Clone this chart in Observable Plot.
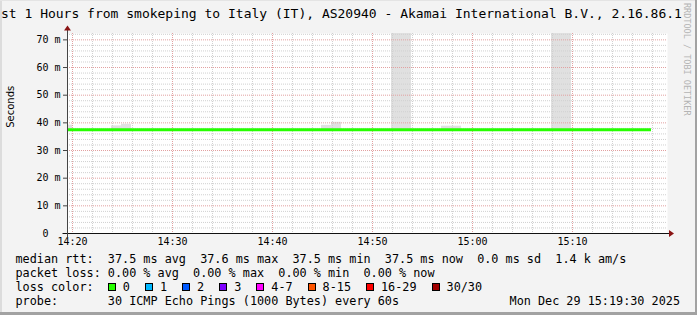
<!DOCTYPE html>
<html><head><meta charset="utf-8">
<script src="https://cdn.jsdelivr.net/npm/d3@7"></script>
<script src="https://cdn.jsdelivr.net/npm/@observablehq/plot@0.6"></script>
<style>
html,body{margin:0;padding:0;background:#f3f3f3;}
#chart{position:relative;width:697px;height:315px;background:#f3f3f3;overflow:hidden;font-family:'DejaVu Sans Mono',monospace;color:#000;}
.abs{position:absolute;}
</style></head><body><div id="chart"></div>
<script>
// ---- data ----
const day = "2025-12-29";
const titleText = "st 1 Hours from smokeping to Italy (IT), AS20940 - Akamai International B.V., 2.16.86.1";
const xStart = "14:19:30", xEnd = "15:19:30";
const xTickLabels = ["14:20","14:30","14:40","14:50","15:00","15:10"];
const yTickValues = [0,10,20,30,40,50,60,70];
const yMax = 72.3;
const medianStart = ["14:19:30"];
const medianEnd = ["15:17:54"];
const medianRtt = [37.5];
const smokeStart = ["14:19:30","14:23:54","14:24:54","14:44:54","14:45:54","14:51:54","14:56:54","15:07:54"];
const smokeEnd   = ["14:20:00","14:24:54","14:25:54","14:45:54","14:46:54","14:53:54","14:58:54","15:09:54"];
const smokeLow   = [37.0, 37.0, 37.0, 37.0, 37.0, 37.0, 37.0, 37.0];
const smokeHigh  = [39.2, 38.9, 39.5, 39.1, 40.2, 95.0, 38.8, 95.0];
const lossLabels = ["0","1","2","3","4-7","8-15","16-29","30/30"];
const lossColors = ["#26ff00","#00b8ff","#0059ff","#7e00ff","#ff00ff","#ff5500","#ff0000","#a10000"];
const statsLine1 = "median rtt:  37.5 ms avg  37.6 ms max  37.5 ms min  37.5 ms now  0.0 ms sd  1.4 k am/s";
const statsLine2 = "packet loss: 0.00 % avg  0.00 % max  0.00 % min  0.00 % now";
const lossLegendLabel = "loss color:  ";
const probeLine = "probe:       30 ICMP Echo Pings (1000 Bytes) every 60s";
const dateStamp = "Mon Dec 29 15:19:30 2025";
const yLabel = "Seconds";
const watermark = "RRDTOOL / TOBI OETIKER";

// ---- build ----
const chart = document.getElementById("chart");
const t = s => new Date(`${day}T${s.length === 5 ? s + ":00" : s}Z`);
const x0 = t(xStart), x1 = t(xEnd);
const majorX = xTickLabels.map(t);
const minorX = d3.utcMinute.every(2).range(x0, x1).filter(d => d.getUTCMinutes() % 10 !== 0);
const majorY = yTickValues.filter(v => v > 0);
const minorY = d3.range(2, yMax, 2).filter(v => v % 10 !== 0);
const smoke = smokeStart.map((s, i) => ({x1: t(s), x2: t(smokeEnd[i]), y1: smokeLow[i], y2: smokeHigh[i]}));
const median = medianStart.map((s, i) => ({x1: t(s), x2: t(medianEnd[i]), y: medianRtt[i]}));

// borders
function box(css){const d=document.createElement("div");d.className="abs";d.style.cssText=css;chart.appendChild(d);return d;}
box("left:0;top:0;width:2px;height:315px;background:#dcdcdc;");
box("left:0;top:0;width:697px;height:1px;background:#e4e4e4;");
box("right:0;top:0;width:2px;height:315px;background:#a2a2a2;");
box("left:0;bottom:0;width:697px;height:3px;background:#a2a2a2;");

// title
const title = box("left:1px;top:6.3px;font-size:13px;line-height:15px;white-space:pre;");
title.textContent = titleText;

// watermark
const wm = box("left:692px;top:3px;font-size:8.5px;line-height:10px;white-space:pre;color:#b4b4b4;transform:rotate(90deg);transform-origin:0 0;");
wm.textContent = watermark;

const gridMinor = {stroke: "#d0d0d0", strokeOpacity: 1, strokeDasharray: "1,1"};
const gridMajor = {stroke: "#e2a0a0", strokeOpacity: 1, strokeDasharray: "1,1"};

const plot = Plot.plot({
  width: 697, height: 228,
  marginLeft: 67, marginRight: 30, marginTop: 11, marginBottom: 17,
  x: {type: "utc", domain: [x0, x1]},
  y: {domain: [0, yMax]},
  style: {background: "transparent", fontFamily: "'DejaVu Sans Mono', monospace", fontSize: "10px", color: "#000", overflow: "visible"},
  marks: [
    Plot.frame({fill: "#ffffff", stroke: "none"}),
    Plot.rect(smoke, {x1: "x1", x2: "x2", y1: "y1", y2: "y2", fill: "#e0e0e0", clip: true}),
    Plot.gridX(minorX, gridMinor),
    Plot.gridY(minorY, gridMinor),
    Plot.gridX(majorX, gridMajor),
    Plot.gridY(majorY, gridMajor),
    Plot.ruleY(median, {x1: "x1", x2: "x2", y: "y", stroke: "#26ff00", strokeWidth: 3}),
    Plot.axisX(majorX, {tickFormat: d3.utcFormat("%H:%M"), tickSize: 0, tickPadding: 4.5, label: null}),
    Plot.axisY(yTickValues, {tickFormat: v => v === 0 ? "0\u00a0\u00a0" : `${v} m`, tickSize: 4, tickPadding: 3, label: null, stroke: "#444"}),
    Plot.text([yLabel], {frameAnchor: "left", dx: -56.3, dy: -5.7, rotate: -90, fontFamily: "DejaVu Sans", fontSize: 10, fill: "#000"})
  ]
});
plot.style.position = "absolute";
plot.style.left = "0px";
plot.style.top = "22px";
chart.appendChild(plot);

// axis lines and arrows via the plot's scales
const sx = plot.scale("x"), sy = plot.scale("y");
const X0 = Math.round(sx.apply(x0)) + 0.5, X1 = sx.apply(x1);
const Y0 = Math.round(sy.apply(0)) + 0.5, YT = sy.apply(yMax);
const svg = d3.select(plot);
svg.append("line").attr("x1", X0 - 5).attr("x2", X1 + 3).attr("y1", Y0).attr("y2", Y0).attr("stroke", "#111");
svg.append("line").attr("x1", X0).attr("x2", X0).attr("y1", Y0 + 4).attr("y2", YT - 3).attr("stroke", "#444");
svg.append("path").attr("d", `M${X1 + 2},${Y0 - 3.5}L${X1 + 7},${Y0}L${X1 + 2},${Y0 + 3.5}Z`).attr("fill", "#8a1414");
svg.append("path").attr("d", `M${X0 - 3.5},${YT - 2.5}L${X0},${YT - 7.5}L${X0 + 3.5},${YT - 2.5}Z`).attr("fill", "#8a1414");

// legend
const legend = box("left:15.5px;top:252.2px;font-size:11.8px;line-height:14px;white-space:pre;");
function row(){const d=document.createElement("div");legend.appendChild(d);return d;}
row().textContent = statsLine1;
row().textContent = statsLine2;
const r3 = row();
r3.appendChild(document.createTextNode(lossLegendLabel));
lossLabels.forEach((lab, i) => {
  const sq = document.createElement("span");
  sq.style.cssText = `display:inline-block;width:8px;height:8px;box-sizing:border-box;border:1px solid #000;background:${lossColors[i]};margin-right:7px;vertical-align:baseline;`;
  r3.appendChild(sq);
  const tx = document.createElement("span");
  tx.textContent = lab;
  if (i < lossLabels.length - 1) tx.style.marginRight = "15px";
  r3.appendChild(tx);
});
row().textContent = probeLine;
const ds = box("right:17px;top:294.2px;font-size:11.8px;line-height:14px;white-space:pre;");
ds.textContent = dateStamp;
</script></body></html>
